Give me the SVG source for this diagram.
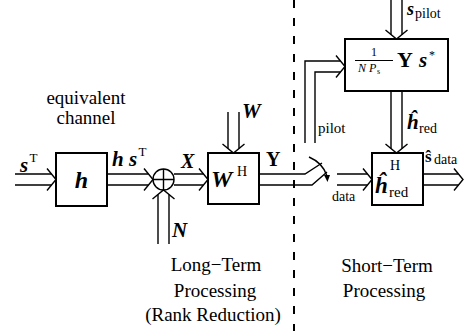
<svg xmlns="http://www.w3.org/2000/svg" xmlns:xlink="http://www.w3.org/1999/xlink" width="473" height="331" viewBox="0 0 473 331">
<style>
.ln{fill:none;stroke:#000;stroke-width:1.4}
.bx{fill:#fff;stroke:#000;stroke-width:2}
.dash{fill:none;stroke:#000;stroke-width:2;stroke-dasharray:8 10}
text{font-family:"Liberation Serif","Times New Roman",serif;fill:#000}
.mb{font-weight:bold;font-style:italic}
.bu{font-weight:bold}
.it{font-style:italic}
.t19{font-size:19px}
.sup{font-size:13px}
.mid{text-anchor:middle}
</style>
<defs>
<path id="ah" class="ln" d="M-9,-11 L0,0 L-9,11"/>
</defs>
<rect width="473" height="331" fill="#fff"/>

<line class="dash" x1="294" y1="0" x2="294" y2="331"/>

<g id="connectors">
  <path class="ln" d="M15,174 H51.5 M15,185 H51.5"/>
  <use xlink:href="#ah" transform="translate(56,179.5)"/>
  <path class="ln" d="M107,174 H148.5 M107,185 H148.5"/>
  <use xlink:href="#ah" transform="translate(153,179.5)"/>
  <path class="ln" d="M174,174 H203.5 M174,185 H203.5"/>
  <use xlink:href="#ah" transform="translate(208,179.5)"/>
  <path class="ln" d="M158,244 V194.5 M169,244 V194.5"/>
  <use xlink:href="#ah" transform="translate(163.5,190) rotate(-90)"/>
  <path class="ln" d="M228,112 V148.5 M239,112 V148.5"/>
  <use xlink:href="#ah" transform="translate(233.5,153) rotate(90)"/>
  <path class="ln" d="M259,174 H305 L322,163 M259,185 H312 L327,172"/>
  <path class="ln" d="M309,157 Q323,163 327,176"/>
  <path d="M324,175 L330,175 L327.5,182 Z" fill="#000"/>
  <path class="ln" d="M305,143 V61 H340.5 M315,143 V72 H340.5"/>
  <use xlink:href="#ah" transform="translate(345,66.5)"/>
  <path class="ln" d="M391,0 V34.5 M402,0 V34.5"/>
  <use xlink:href="#ah" transform="translate(396.5,39) rotate(90)"/>
  <path class="ln" d="M391,91 V148.5 M402,91 V148.5"/>
  <use xlink:href="#ah" transform="translate(396.5,153) rotate(90)"/>
  <path class="ln" d="M337,174 H367.5 M337,185 H367.5"/>
  <use xlink:href="#ah" transform="translate(372,179.5)"/>
  <path class="ln" d="M423,174 H458.5 M423,185 H458.5"/>
  <use xlink:href="#ah" transform="translate(463,179.5)"/>
</g>

<g id="channel-label">
  <text class="t19 mid" x="86" y="104">equivalent</text>
  <text class="t19 mid" x="86" y="124">channel</text>
</g>

<g id="input-label">
  <text class="mb" font-size="21" x="20" y="172">s</text>
  <text class="sup" x="29.5" y="162">T</text>
</g>

<g id="h-box">
  <rect class="bx" x="56" y="153" width="51" height="53"/>
  <text class="mb mid" font-size="24" x="81.5" y="188">h</text>
</g>

<g id="hs-label">
  <text class="mb" font-size="21" x="112" y="166">h</text>
  <text class="mb" font-size="21" x="129" y="166">s</text>
  <text class="sup" x="138.5" y="156">T</text>
</g>

<g id="sum">
  <circle class="ln" cx="163.5" cy="179.5" r="10.5"/>
  <path class="ln" d="M153,179.5 H174 M163.5,169 V190"/>
</g>

<g id="N-label">
  <text class="mb" font-size="21" x="172" y="237">N</text>
</g>

<g id="X-label">
  <text class="mb" font-size="20" x="181" y="168">X</text>
</g>

<g id="WH-box">
  <rect class="bx" x="208" y="153" width="51" height="51"/>
  <text class="mb" font-size="24" x="211" y="187">W</text>
  <text font-size="14" x="237" y="176">H</text>
</g>

<g id="W-label">
  <text class="mb" font-size="21" x="242" y="118">W</text>
</g>

<g id="Y-label">
  <text class="bu" font-size="20" x="266" y="166">Y</text>
</g>

<g id="switch-labels">
  <text font-size="15" x="318" y="133">pilot</text>
  <text font-size="14" x="332" y="201">data</text>
</g>

<g id="estimator-box">
  <rect class="bx" x="345" y="39" width="103" height="52"/>
  <text class="mid" font-size="12" x="374" y="56">1</text>
  <line x1="355" y1="60.5" x2="393" y2="60.5" stroke="#000" stroke-width="1"/>
  <text class="it" font-size="12" x="358" y="72">N</text>
  <text class="it" font-size="12" x="369" y="72">P</text>
  <text font-size="8" x="377" y="74">s</text>
  <text class="bu" font-size="22" x="397" y="67">Y</text>
  <text class="mb" font-size="21" x="419" y="67">s</text>
  <text font-size="12" x="429" y="59">*</text>
</g>

<g id="spilot-label">
  <text class="mb" font-size="18" x="407" y="15">s</text>
  <text font-size="14" x="415" y="18">pilot</text>
</g>

<g id="hred-label">
  <text class="mb" font-size="21" x="407" y="129">ĥ</text>
  <text font-size="14" x="419" y="133">red</text>
</g>

<g id="hredH-box">
  <rect class="bx" x="372" y="153" width="51" height="52"/>
  <text class="mb" font-size="23" x="375" y="193">ĥ</text>
  <text font-size="14" x="390" y="170">H</text>
  <text font-size="15" x="389" y="197">red</text>
</g>

<g id="sdata-label">
  <text class="bu" font-size="17" x="425" y="162">ŝ</text>
  <text font-size="14" x="434" y="164">data</text>
</g>

<g id="section-labels">
  <text class="t19 mid" x="216" y="271">Long−Term</text>
  <text class="t19 mid" x="215" y="297">Processing</text>
  <text class="t19 mid" x="213" y="321">(Rank Reduction)</text>
  <text class="t19 mid" x="387" y="272">Short−Term</text>
  <text class="t19 mid" x="384" y="297">Processing</text>
</g>
</svg>
